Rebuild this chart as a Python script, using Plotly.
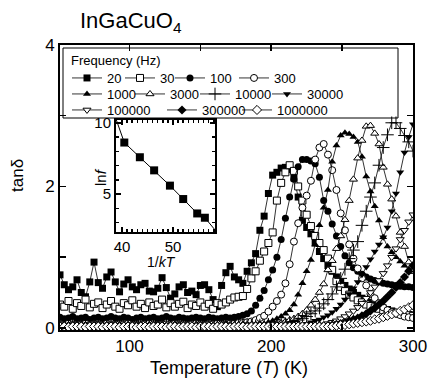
import plotly.graph_objects as go

# temperature sampling grid (K)
temperature = list(range(51, 301, 3))

freq_labels = ["20", "30", "100", "300", "1000", "3000", "10000", "30000",
               "100000", "300000", "1000000"]

tan_20 = [0.75, 0.61, 0.54, 0.58, 0.68, 0.5, 0.44, 0.65, 0.93, 0.64,
          0.56, 0.72, 0.79, 0.65, 0.51, 0.62, 0.68, 0.58, 0.54, 0.61,
          0.63, 0.52, 0.51, 0.56, 0.71, 0.57, 0.42, 0.48, 0.58, 0.61,
          0.5, 0.52, 0.47, 0.6, 0.61, 0.54, 0.4, 0.3, 0.6, 0.78,
          0.87, 0.72, 0.68, 0.63, 0.8, 0.92, 1.05, 1.38, 1.58, 1.9,
          2.16, 2.2, 2.26, 2.27, 2.24, 2.12, 1.85, 1.52, 1.42, 1.33,
          1.2, 1.08, 0.98, 0.88, 0.8, 0.72, 0.65, 0.6, 0.55, 0.5,
          0.46, 0.42, 0.39, 0.36, 0.33, 0.3, 0.28, 0.26, 0.24, 0.22,
          0.21, 0.2, 0.19, 0.18]

tan_30 = [0.33, 0.3, 0.38, 0.27, 0.35, 0.31, 0.4, 0.29, 0.34, 0.36,
          0.28, 0.33, 0.38, 0.3, 0.27, 0.35, 0.32, 0.39, 0.3, 0.34,
          0.28, 0.36, 0.31, 0.33, 0.4, 0.29, 0.35, 0.3, 0.34, 0.37,
          0.28, 0.33, 0.31, 0.36, 0.3, 0.34, 0.27, 0.35, 0.33, 0.36,
          0.4, 0.43, 0.44, 0.45, 0.55, 0.7, 0.8, 0.95, 1.08, 1.2,
          1.35, 1.8, 2.05, 2.2, 2.3, 2.22, 2.0, 1.8, 1.6, 1.44,
          1.3, 1.2, 1.1, 0.98, 0.82, 0.66, 0.58, 0.52, 0.47, 0.43,
          0.39, 0.36, 0.33, 0.31, 0.29, 0.27, 0.25, 0.23, 0.22, 0.21,
          0.2, 0.19, 0.18, 0.17]

tan_100 = [0.15, 0.13, 0.14, 0.16, 0.13, 0.14, 0.15, 0.12, 0.14, 0.15,
           0.13, 0.14, 0.16, 0.14, 0.13, 0.15, 0.14, 0.12, 0.14, 0.15,
           0.13, 0.14, 0.15, 0.13, 0.14, 0.16, 0.14, 0.13, 0.15, 0.14,
           0.13, 0.14, 0.15, 0.14, 0.13, 0.15, 0.14, 0.13, 0.14, 0.15,
           0.14, 0.15, 0.16, 0.18, 0.2, 0.24, 0.32, 0.42, 0.53, 0.68,
           0.82, 1.0, 1.25, 1.55, 1.85, 2.1, 2.28, 2.38, 2.38, 2.36,
           2.32, 2.13, 1.8, 1.65, 1.47, 1.3, 1.15, 1.02, 0.92, 0.85,
           0.8, 0.76, 0.72, 0.69, 0.67, 0.65, 0.63, 0.62, 0.61, 0.6,
           0.59, 0.58, 0.58, 0.57]

tan_300 = [0.05, 0.04, 0.06, 0.05, 0.04, 0.05, 0.06, 0.04, 0.05, 0.05,
           0.04, 0.06, 0.05, 0.04, 0.05, 0.05, 0.06, 0.04, 0.05, 0.04,
           0.05, 0.06, 0.05, 0.04, 0.05, 0.05, 0.04, 0.06, 0.05, 0.05,
           0.04, 0.05, 0.06, 0.05, 0.04, 0.05, 0.05, 0.06, 0.05, 0.05,
           0.06, 0.06, 0.07, 0.07, 0.08, 0.09, 0.11, 0.14, 0.17, 0.23,
           0.3, 0.38, 0.47, 0.63, 0.9, 1.22, 1.48, 1.7, 1.87, 2.08,
           2.38, 2.55, 2.6, 2.45, 2.23, 1.95, 1.62, 1.38, 1.18, 0.98,
           0.84, 0.7, 0.6, 0.48, 0.42, 0.35, 0.29, 0.25, 0.22, 0.2,
           0.18, 0.16, 0.15, 0.14]

tan_1k = [0.04, 0.03, 0.05, 0.04, 0.03, 0.04, 0.05, 0.04, 0.03, 0.04,
          0.04, 0.05, 0.03, 0.04, 0.04, 0.03, 0.05, 0.04, 0.04, 0.03,
          0.04, 0.05, 0.04, 0.03, 0.04, 0.04, 0.05, 0.03, 0.04, 0.04,
          0.03, 0.04, 0.05, 0.04, 0.04, 0.03, 0.04, 0.05, 0.04, 0.03,
          0.04, 0.04, 0.05, 0.04, 0.03, 0.04, 0.05, 0.05, 0.06, 0.08,
          0.1, 0.13, 0.16, 0.2, 0.25, 0.33, 0.47, 0.63, 0.8, 0.96,
          1.18, 1.45, 1.7, 1.95, 2.35, 2.58, 2.72, 2.76, 2.74, 2.7,
          2.63, 2.42, 2.14, 1.93, 1.72, 1.52, 1.28, 1.15, 1.07, 1.0,
          0.94, 0.88, 0.83, 0.79]

tan_3k = [0.04, 0.05, 0.03, 0.04, 0.04, 0.05, 0.03, 0.04, 0.04, 0.05,
          0.04, 0.03, 0.04, 0.05, 0.04, 0.04, 0.03, 0.04, 0.05, 0.04,
          0.03, 0.04, 0.04, 0.05, 0.04, 0.03, 0.04, 0.05, 0.04, 0.04,
          0.05, 0.03, 0.04, 0.04, 0.05, 0.04, 0.03, 0.04, 0.04, 0.05,
          0.04, 0.03, 0.04, 0.05, 0.04, 0.04, 0.04, 0.05, 0.04, 0.04,
          0.05, 0.06, 0.07, 0.09, 0.11, 0.13, 0.16, 0.2, 0.25, 0.32,
          0.4, 0.5, 0.62, 0.82, 0.95, 1.12, 1.3, 1.53, 1.8, 2.1,
          2.4, 2.65, 2.85, 2.86, 2.75, 2.6, 2.27, 2.03, 1.82, 1.58,
          1.35, 1.15, 0.93, 0.8]

tan_10k = [0.03, 0.04, 0.04, 0.03, 0.05, 0.04, 0.04, 0.03, 0.04, 0.05,
           0.04, 0.03, 0.04, 0.04, 0.05, 0.03, 0.04, 0.04, 0.03, 0.05,
           0.04, 0.04, 0.03, 0.04, 0.05, 0.04, 0.03, 0.04, 0.04, 0.05,
           0.03, 0.04, 0.04, 0.05, 0.04, 0.03, 0.04, 0.04, 0.05, 0.04,
           0.03, 0.04, 0.04, 0.05, 0.04, 0.04, 0.03, 0.04, 0.04, 0.05,
           0.04, 0.04, 0.05, 0.06, 0.08, 0.09, 0.11, 0.13, 0.16, 0.2,
           0.24, 0.28, 0.34, 0.4, 0.48, 0.58, 0.7, 0.83, 0.98, 1.1,
           1.22, 1.45, 1.65, 1.85, 2.05, 2.3, 2.55, 2.73, 2.9, 2.9,
           2.82, 2.72, 2.63, 2.5]

tan_30k = [0.04, 0.03, 0.04, 0.05, 0.04, 0.04, 0.03, 0.04, 0.05, 0.04,
           0.04, 0.03, 0.05, 0.04, 0.04, 0.03, 0.04, 0.04, 0.05, 0.04,
           0.03, 0.04, 0.04, 0.05, 0.04, 0.03, 0.04, 0.04, 0.05, 0.04,
           0.04, 0.03, 0.04, 0.05, 0.04, 0.04, 0.03, 0.04, 0.04, 0.05,
           0.04, 0.04, 0.03, 0.04, 0.05, 0.04, 0.04, 0.03, 0.04, 0.04,
           0.05, 0.04, 0.04, 0.04, 0.05, 0.04, 0.04, 0.05, 0.06, 0.08,
           0.1, 0.12, 0.15, 0.18, 0.22, 0.27, 0.33, 0.4, 0.48, 0.56,
           0.65, 0.75, 0.86, 0.97, 1.08, 1.18, 1.28, 1.42, 1.65, 1.9,
           2.2, 2.48, 2.7, 2.88]

tan_100k = [0.03, 0.03, 0.04, 0.03, 0.02, 0.03, 0.04, 0.03, 0.03, 0.02,
            0.03, 0.04, 0.03, 0.03, 0.02, 0.03, 0.03, 0.04, 0.03, 0.02,
            0.03, 0.03, 0.04, 0.03, 0.03, 0.02, 0.03, 0.04, 0.03, 0.03,
            0.02, 0.03, 0.03, 0.04, 0.03, 0.03, 0.02, 0.03, 0.03, 0.04,
            0.03, 0.03, 0.02, 0.03, 0.04, 0.03, 0.03, 0.03, 0.02, 0.03,
            0.03, 0.04, 0.03, 0.03, 0.03, 0.02, 0.03, 0.03, 0.03, 0.03,
            0.03, 0.03, 0.04, 0.06, 0.08, 0.1, 0.13, 0.16, 0.2, 0.24,
            0.29, 0.35, 0.42, 0.5, 0.58, 0.67, 0.77, 0.88, 1.0, 1.12,
            1.25, 1.38, 1.5, 1.6]

tan_300k = [0.02, 0.03, 0.02, 0.03, 0.02, 0.02, 0.03, 0.02, 0.03, 0.02,
            0.02, 0.03, 0.02, 0.02, 0.03, 0.02, 0.03, 0.02, 0.02, 0.03,
            0.02, 0.02, 0.03, 0.02, 0.03, 0.02, 0.02, 0.03, 0.02, 0.02,
            0.03, 0.02, 0.02, 0.03, 0.02, 0.03, 0.02, 0.02, 0.03, 0.02,
            0.02, 0.03, 0.02, 0.02, 0.03, 0.02, 0.03, 0.02, 0.02, 0.03,
            0.02, 0.03, 0.02, 0.03, 0.02, 0.03, 0.03, 0.02, 0.03, 0.03,
            0.03, 0.03, 0.03, 0.03, 0.04, 0.05, 0.06, 0.08, 0.1, 0.12,
            0.14, 0.17, 0.2, 0.24, 0.28, 0.33, 0.38, 0.44, 0.5, 0.57,
            0.64, 0.72, 0.8, 0.88]

tan_1M = [0.02, 0.02, 0.01, 0.02, 0.02, 0.02, 0.01, 0.02, 0.02, 0.02,
          0.01, 0.02, 0.02, 0.02, 0.01, 0.02, 0.02, 0.02, 0.01, 0.02,
          0.02, 0.01, 0.02, 0.02, 0.02, 0.01, 0.02, 0.02, 0.01, 0.02,
          0.02, 0.02, 0.01, 0.02, 0.02, 0.02, 0.01, 0.02, 0.02, 0.02,
          0.01, 0.02, 0.02, 0.02, 0.01, 0.02, 0.02, 0.02, 0.02, 0.02,
          0.02, 0.02, 0.02, 0.02, 0.02, 0.02, 0.02, 0.02, 0.02, 0.02,
          0.02, 0.02, 0.02, 0.02, 0.02, 0.03, 0.04, 0.04, 0.05, 0.06,
          0.07, 0.08, 0.09, 0.1, 0.12, 0.13, 0.15, 0.17, 0.19, 0.21,
          0.24, 0.26, 0.29, 0.32]

# inset: ln f vs 1/kT (first and last points lie outside the inset frame)
inv_kT = [38.3, 40.45, 43.5, 46.3, 49.4, 52.0, 54.75, 56.25, 59.0]
ln_f = [10.8, 8.62, 7.59, 6.67, 5.6, 4.66, 3.65, 3.35, 2.17]

series = [tan_20, tan_30, tan_100, tan_300, tan_1k, tan_3k, tan_10k,
          tan_30k, tan_100k, tan_300k, tan_1M]
symbols = ["square", "square", "circle", "circle", "triangle-up",
           "triangle-up", "cross-thin", "triangle-down", "triangle-down",
           "diamond", "diamond"]
filled = [True, False, True, False, True, False, None, True, False, True, False]

# legend entry anchor positions (pixels in the figure: line start x, row centre y)
legend_x_px = [70, 123, 173, 237, 70, 133, 198, 270, 70, 165, 240]
legend_y_px = [77, 77, 77, 77, 93, 93, 93, 93, 109, 109, 109]

FONT = "Liberation Sans, Arial, sans-serif"


def px_x(p):
    return (p - 60) / 353.0


def px_y(p):
    return (330 - p) / 285.0


fig = go.Figure()
legend_layout = {}
for k, (vals, lab, sym, fl) in enumerate(zip(series, freq_labels, symbols, filled)):
    lg = "legend" if k == 0 else "legend%d" % (k + 1)
    if fl is None:
        mk = dict(symbol=sym, size=9, color="black", line=dict(color="black", width=1))
    elif fl:
        mk = dict(symbol=sym, size=7, color="black", line=dict(color="black", width=0))
    else:
        mk = dict(symbol=sym, size=7, color="white", line=dict(color="black", width=1))
    fig.add_trace(go.Scatter(x=temperature, y=vals, mode="lines+markers", name=lab,
                             line=dict(color="black", width=0.8), marker=mk,
                             legend=lg, xaxis="x", yaxis="y"))
    legend_layout[lg] = dict(orientation="h", xanchor="left", yanchor="top",
                             bgcolor="rgba(0,0,0,0)", font=dict(size=13),
                             itemwidth=30, borderwidth=0,
                             x=px_x(legend_x_px[k] - 3), y=px_y(legend_y_px[k] - 14))

fig.add_trace(go.Scatter(x=inv_kT, y=ln_f, mode="lines+markers", showlegend=False,
                         line=dict(color="black", width=1),
                         marker=dict(symbol="square", size=8, color="black"),
                         xaxis="x2", yaxis="y2"))

fig.update_layout(
    width=429, height=379,
    margin=dict(l=60, r=16, t=45, b=49, autoexpand=False),
    plot_bgcolor="white", paper_bgcolor="white",
    font=dict(family=FONT, color="black", size=13),
    xaxis=dict(domain=[0, 1], range=[51, 300], tickvals=[100, 150, 200, 250, 300],
               ticktext=["100", "", "200", "", "300"], ticks="inside", ticklen=6,
               tickwidth=1.5, tickcolor="black", showline=True, linewidth=2,
               linecolor="black", mirror="ticks", showgrid=False, zeroline=False,
               tickfont=dict(size=17), automargin=False),
    yaxis=dict(domain=[0, 1], range=[-0.03, 4.0], tickvals=[0, 1, 2, 3, 4],
               ticktext=["0", "", "2", "", "4"], ticks="inside", ticklen=6,
               tickwidth=1.5, tickcolor="black", showline=True, linewidth=2,
               linecolor="black", mirror="ticks", showgrid=False, zeroline=False,
               tickfont=dict(size=17), automargin=False),
    xaxis2=dict(domain=[px_x(116), px_x(215)], anchor="y2", range=[38.82, 58.24],
                tickvals=[40, 50], ticks="inside", ticklen=5, tickwidth=1.5,
                tickcolor="black", showline=True, linewidth=2, linecolor="black",
                mirror="ticks", showgrid=False, zeroline=False,
                tickfont=dict(size=15), automargin=False, ticklabelstandoff=0,
                minor=dict(ticks="inside", dtick=1, ticklen=3, tickcolor="black")),
    yaxis2=dict(domain=[px_y(232), px_y(120)], anchor="x2", range=[2.35, 10.2],
                tickvals=[5, 10], ticks="inside", ticklen=5, tickwidth=1.5,
                tickcolor="black", showline=True, linewidth=2, linecolor="black",
                mirror="ticks", showgrid=False, zeroline=False,
                tickfont=dict(size=15), automargin=False,
                minor=dict(ticks="inside", dtick=1, ticklen=3, tickcolor="black")),
    shapes=[dict(type="rect", xref="paper", yref="paper", x0=px_x(63), x1=px_x(398),
                 y0=px_y(118), y1=px_y(48), line=dict(color="black", width=1),
                 fillcolor="white", layer="below")],
    annotations=[
        dict(text="Frequency (Hz)", x=px_x(69), y=px_y(61), xref="paper", yref="paper",
             xanchor="left", yanchor="middle", showarrow=False, font=dict(size=13)),
        dict(text="InGaCuO<sub>4</sub>", x=px_x(78), y=px_y(22), xref="paper", yref="paper",
             xanchor="left", yanchor="middle", showarrow=False, font=dict(size=22)),
        dict(text="tanδ", x=px_x(17), y=px_y(176), xref="paper", yref="paper",
             xanchor="center", yanchor="middle", textangle=-90, showarrow=False,
             font=dict(size=17)),
        dict(text="Temperature (<i>T</i>) (K)", x=px_x(229), y=px_y(368), xref="paper",
             yref="paper", xanchor="center", yanchor="middle", showarrow=False,
             font=dict(size=18)),
        dict(text="ln<i>f</i>", x=px_x(100), y=px_y(177), xref="paper", yref="paper",
             xanchor="center", yanchor="middle", textangle=-90, showarrow=False,
             font=dict(size=15)),
        dict(text="1/<i>kT</i>", x=px_x(161), y=px_y(262), xref="paper", yref="paper",
             xanchor="center", yanchor="middle", showarrow=False, font=dict(size=14)),
    ],
)
fig.update_layout(**legend_layout)

fig.write_html("out.html", config={"displayModeBar": False, "staticPlot": True},
               post_script="document.body.style.margin='0px';")
